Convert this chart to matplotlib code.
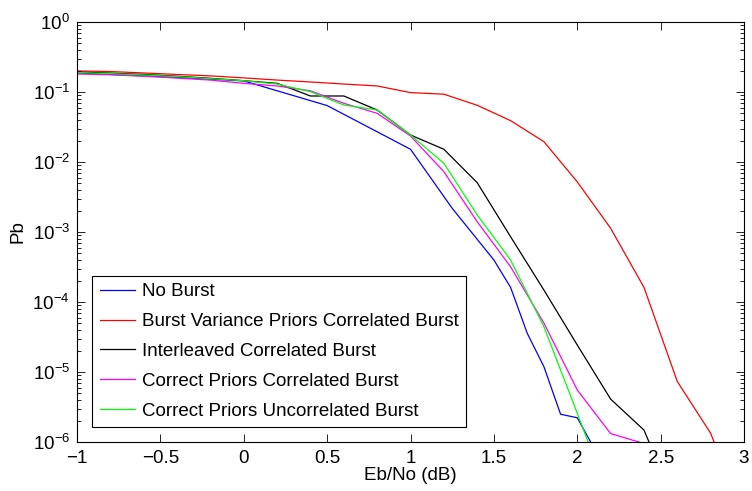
import numpy as np
import matplotlib
matplotlib.use('Agg')
from matplotlib import pyplot as plt
from matplotlib.ticker import FixedLocator, NullFormatter

plt.rcParams['font.family'] = ['Liberation Sans', 'DejaVu Sans']
plt.rcParams['axes.unicode_minus'] = True

# Eb/No grids (dB)
x_02 = [-1.0, -0.8, -0.6, -0.4, -0.2, 0.0, 0.2, 0.4, 0.6, 0.8, 1.0,
        1.2, 1.4, 1.6, 1.8, 2.0, 2.2, 2.4, 2.6, 2.8, 3.0]
x_blue = [-1.0, -0.5, 0.0, 0.5, 1.0, 1.25, 1.5, 1.6, 1.7, 1.8, 1.9, 2.0, 2.1]

# bit error probability
pb_no_burst = [0.187, 0.166, 0.144, 0.064, 0.0152, 0.00218, 3.98e-4, 1.62e-4,
               3.57e-5, 1.19e-5, 2.49e-6, 2.22e-6, 8.2e-7]
pb_burst_var = [0.200, 0.196, 0.187, 0.178, 0.170, 0.159, 0.148, 0.139, 0.130,
                0.122, 0.098, 0.093, 0.0646, 0.039, 0.0195, 0.0052, 0.00113,
                1.62e-4, 7.3e-6, 1.33e-6, 8e-8]
pb_interleaved = [0.193, 0.186, 0.178, 0.168, 0.157, 0.145, 0.133, 0.0877,
                  0.0877, 0.0553, 0.0243, 0.0152, 0.00506, 8.57e-4, 1.48e-4,
                  2.43e-5, 4.1e-6, 1.48e-6, 1.1e-7]
pb_correct_corr = [0.181, 0.176, 0.168, 0.158, 0.148, 0.133, 0.122, 0.104,
                   0.069, 0.0496, 0.0235, 0.00727, 0.0014, 3.19e-4, 5.0e-5,
                   5.53e-6, 1.32e-6, 9.5e-7]
pb_correct_uncorr = [0.19, 0.183, 0.175, 0.166, 0.155, 0.145, 0.13, 0.101,
                     0.0652, 0.0553, 0.0243, 0.00958, 0.00175, 3.98e-4,
                     4.44e-5, 2.57e-6, 1.4e-7]

labels = ['No Burst',
          'Burst Variance Priors Correlated Burst',
          'Interleaved Correlated Burst',
          'Correct Priors Correlated Burst',
          'Correct Priors Uncorrelated Burst']

x_ticks = [-1, -0.5, 0, 0.5, 1, 1.5, 2, 2.5, 3]
y_decades = [-6, -5, -4, -3, -2, -1, 0]

fs = 13.5

fig = plt.figure(figsize=(7.52, 4.91), dpi=100)
ax = fig.add_axes([0.1024, 0.0998, 0.8870, 0.8554])

lw = 0.9
ax.semilogy(x_blue, pb_no_burst, color=(0, 0, 1), lw=lw, label=labels[0])
ax.semilogy(x_02, pb_burst_var, color=(1, 0, 0), lw=lw, label=labels[1])
ax.semilogy(x_02[:len(pb_interleaved)], pb_interleaved, color='k', lw=lw,
            label=labels[2])
ax.semilogy(x_02[:len(pb_correct_corr)], pb_correct_corr, color=(1, 0, 1),
            lw=lw, label=labels[3])
ax.semilogy(x_02[:len(pb_correct_uncorr)], pb_correct_uncorr, color=(0, 1, 0),
            lw=lw, label=labels[4])

ax.set_xlim(-1, 3)
ax.set_ylim(1e-6, 1)
ax.set_xticks(x_ticks)
ax.set_xticklabels([f'{t:g}'.replace('-', '\u2212') for t in x_ticks])
ax.set_yticks([10.0 ** d for d in y_decades])
ax.set_yticklabels([f'$\\mathdefault{{10^{{{d}}}}}$' for d in y_decades])
minor = [m * 10.0 ** d for d in y_decades[:-1] for m in range(2, 10)]
ax.yaxis.set_minor_locator(FixedLocator(minor))
ax.yaxis.set_minor_formatter(NullFormatter())

ax.tick_params(which='both', direction='in', top=True, right=True,
               labelsize=fs, colors='k', width=0.6)
ax.tick_params(which='major', length=6)
ax.tick_params(which='minor', length=3)
ax.tick_params(axis='x', pad=6)
ax.tick_params(axis='y', pad=5)
for s in ax.spines.values():
    s.set_linewidth(0.8)

ax.set_xlabel('Eb/No (dB)', fontsize=fs, labelpad=0)
ax.set_ylabel('Pb', fontsize=fs, labelpad=4)

leg = ax.legend(loc='lower left', bbox_to_anchor=(0.023, 0.035), fontsize=fs,
                fancybox=False, framealpha=1, edgecolor='k',
                handlelength=1.85, handletextpad=0.4, labelspacing=0.68,
                borderpad=0.4, borderaxespad=0)
leg.get_frame().set_linewidth(0.8)

fig.savefig('out.png', dpi=100)
